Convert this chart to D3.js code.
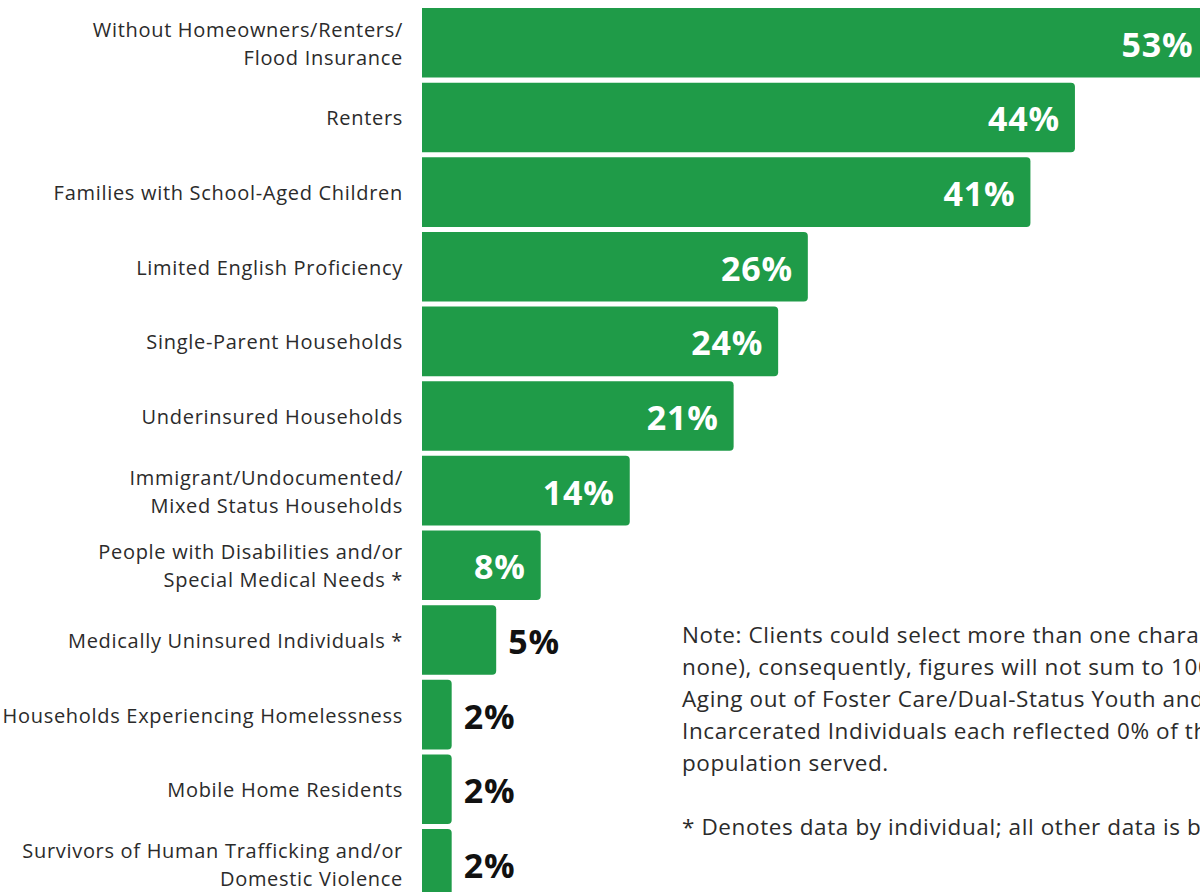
<!DOCTYPE html>
<html>
<head>
<meta charset="utf-8">
<script src="https://cdn.jsdelivr.net/npm/d3@7"></script>
<style>
  html, body { margin: 0; padding: 0; background: #fff; overflow: hidden; }
  svg { display: block; }
</style>
</head>
<body>
<svg id="chart" width="1200" height="892"></svg>
<script>
// Population characteristics (share of clients served, %)
const categories = [
  ["Without Homeowners/Renters/", "Flood Insurance"],
  ["Renters"],
  ["Families with School-Aged Children"],
  ["Limited English Proficiency"],
  ["Single-Parent Households"],
  ["Underinsured Households"],
  ["Immigrant/Undocumented/", "Mixed Status Households"],
  ["People with Disabilities and/or", "Special Medical Needs *"],
  ["Medically Uninsured Individuals *"],
  ["Households Experiencing Homelessness"],
  ["Mobile Home Residents"],
  ["Survivors of Human Trafficking and/or", "Domestic Violence"]
];
const values = [53, 44, 41, 26, 24, 21, 14, 8, 5, 2, 2, 2];
const noteLines = [
  "Note: Clients could select more than one characteristic (or",
  "none), consequently, figures will not sum to 100%.",
  "Aging out of Foster Care/Dual-Status Youth and Formerly",
  "Incarcerated Individuals each reflected 0% of the",
  "population served."
];
const footnote = "* Denotes data by individual; all other data is by household.";

const GREEN = "#1f9b48";
const FONT = "'Open Sans', 'Noto Sans', sans-serif";

const svg = d3.select("#chart");
const keys = categories.map((c, i) => i);

const y = d3.scaleBand()
  .domain(keys)
  .range([8, 898.7])
  .paddingInner(0.0676)
  .paddingOuter(0);

const x = d3.scaleLinear()
  .domain([0, 53])
  .range([422, 1208.5]);

const insideThreshold = 8;

// Bars: rounded on the right end, square on the left
function barPath(v, i) {
  const x0 = x(0), x1 = x(v), y0 = y(i), h = y.bandwidth();
  const r = Math.min(4, (x1 - x0) / 2);
  return `M${x0},${y0}H${x1 - r}Q${x1},${y0} ${x1},${y0 + r}` +
         `V${y0 + h - r}Q${x1},${y0 + h} ${x1 - r},${y0 + h}H${x0}Z`;
}

svg.append("g")
  .selectAll("path")
  .data(values)
  .join("path")
  .attr("d", (v, i) => barPath(v, i))
  .attr("fill", GREEN);

// Category labels, right-aligned to the left of the bars
const labels = svg.append("g")
  .attr("font-family", FONT)
  .attr("font-size", 20)
  .attr("letter-spacing", 0.7)
  .attr("fill", "#2b2b2b")
  .attr("text-anchor", "end");

categories.forEach((lines, i) => {
  const cy = y(i) + y.bandwidth() / 2;
  const lh = 28;
  const t = labels.append("text")
    .attr("x", 403)
    .attr("y", cy - (lines.length - 1) * lh / 2)
    .attr("dominant-baseline", "central");
  lines.forEach((s, j) => {
    t.append("tspan")
      .attr("x", 403)
      .attr("dy", j === 0 ? 0 : lh)
      .text(s);
  });
});

// Value labels: inside (white) for larger bars, outside (black) for small ones
svg.append("g")
  .attr("font-family", FONT)
  .attr("font-weight", 700)
  .attr("font-size", 34)
  .attr("letter-spacing", 0.8)
  .selectAll("text")
  .data(values)
  .join("text")
  .attr("x", v => v >= insideThreshold ? x(v) - 15 : x(v) + 12)
  .attr("y", (v, i) => y(i) + y.bandwidth() / 2 + 1)
  .attr("dominant-baseline", "central")
  .attr("text-anchor", v => v >= insideThreshold ? "end" : "start")
  .attr("fill", v => v >= insideThreshold ? "#fff" : "#111")
  .text(v => v + "%");

// Note block
const note = svg.append("g")
  .attr("font-family", FONT)
  .attr("font-size", 22.5)
  .attr("letter-spacing", 0.6)
  .attr("fill", "#2b2b2b");

note.selectAll("text.line")
  .data(noteLines)
  .join("text")
  .attr("class", "line")
  .attr("x", 682)
  .attr("y", (d, i) => 634 + i * 32)
  .attr("dominant-baseline", "central")
  .text(d => d);

note.append("text")
  .attr("x", 682)
  .attr("y", 826)
  .attr("dominant-baseline", "central")
  .text(footnote);
</script>
</body>
</html>
